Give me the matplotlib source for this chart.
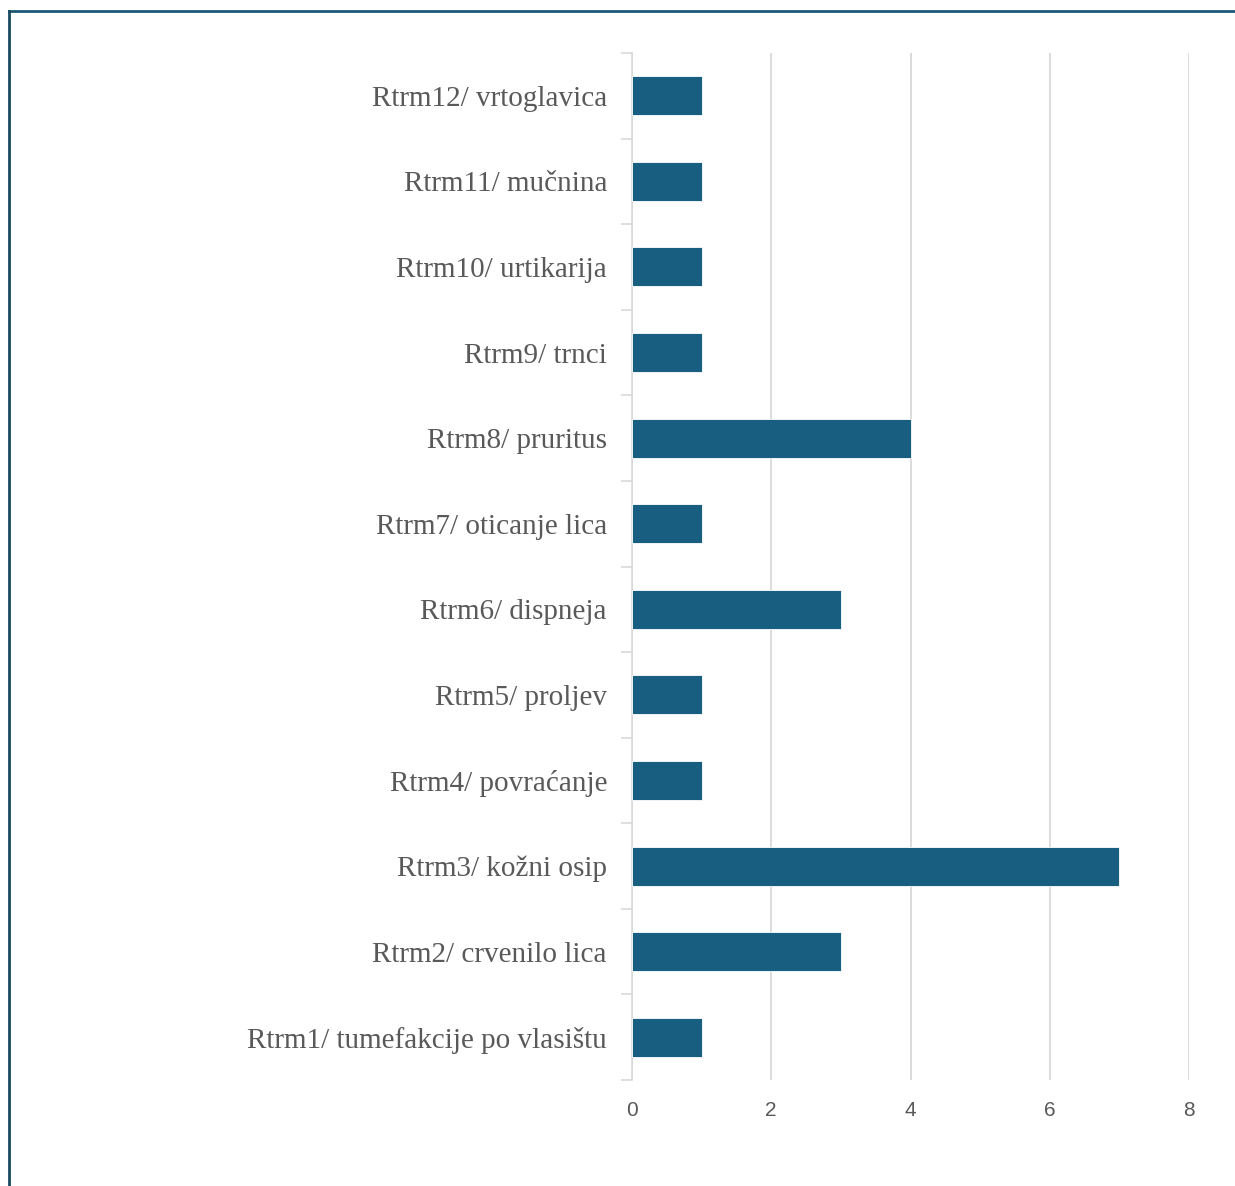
import matplotlib
matplotlib.use("Agg")
import matplotlib.pyplot as plt
from matplotlib.ticker import FixedLocator

categories = [
    "Rtrm1/ tumefakcije po vlasištu",
    "Rtrm2/ crvenilo lica",
    "Rtrm3/ kožni osip",
    "Rtrm4/ povraćanje",
    "Rtrm5/ proljev",
    "Rtrm6/ dispneja",
    "Rtrm7/ oticanje lica",
    "Rtrm8/ pruritus",
    "Rtrm9/ trnci",
    "Rtrm10/ urtikarija",
    "Rtrm11/ mučnina",
    "Rtrm12/ vrtoglavica",
]
values = [1, 3, 7, 1, 1, 3, 1, 4, 1, 1, 1, 1]
xticks = [0, 2, 4, 6, 8]

fig = plt.figure(figsize=(12.35, 11.86), dpi=100)
ax = fig.add_axes([632/1235, 1-1080/1186, (1189-632)/1235, (1080-53)/1186])

pos = list(range(len(categories)))
ax.barh(pos, values, height=0.455, color="#175e80", zorder=3,
        edgecolor="white", linewidth=0.6)
ax.set_xlim(0, 8)
ax.set_ylim(-0.5, len(categories) - 0.5)
ax.set_xticks(xticks)
ax.set_xticklabels([str(t) for t in xticks], fontfamily="Liberation Sans",
                   fontsize=15, color="#595959")
ax.set_yticks(pos)
ax.set_yticklabels(categories, fontfamily="Liberation Serif", fontsize=21,
                   color="#595959")
ax.yaxis.set_minor_locator(FixedLocator([p - 0.5 for p in pos] + [len(pos) - 0.5]))
ax.tick_params(axis="y", which="major", length=0, pad=18)
ax.tick_params(axis="y", which="minor", length=8, width=1.2, color="#d9d9d9")
ax.tick_params(axis="x", length=0, pad=15)
ax.grid(axis="x", color="#d9d9d9", linewidth=1.3, zorder=0)
for s in ["top", "right", "bottom"]:
    ax.spines[s].set_visible(False)
ax.spines["left"].set_color("#d9d9d9")
ax.spines["left"].set_linewidth(1.2)

# figure border (top and left)
fig.add_artist(plt.Line2D([9/1235, 1], [1-11/1186, 1-11/1186], color="#1b5a78",
                          linewidth=2.0, transform=fig.transFigure))
fig.add_artist(plt.Line2D([9/1235, 9/1235], [0, 1-11/1186], color="#1b4a60",
                          linewidth=2.0, transform=fig.transFigure))

fig.savefig("out.png", dpi=100)
